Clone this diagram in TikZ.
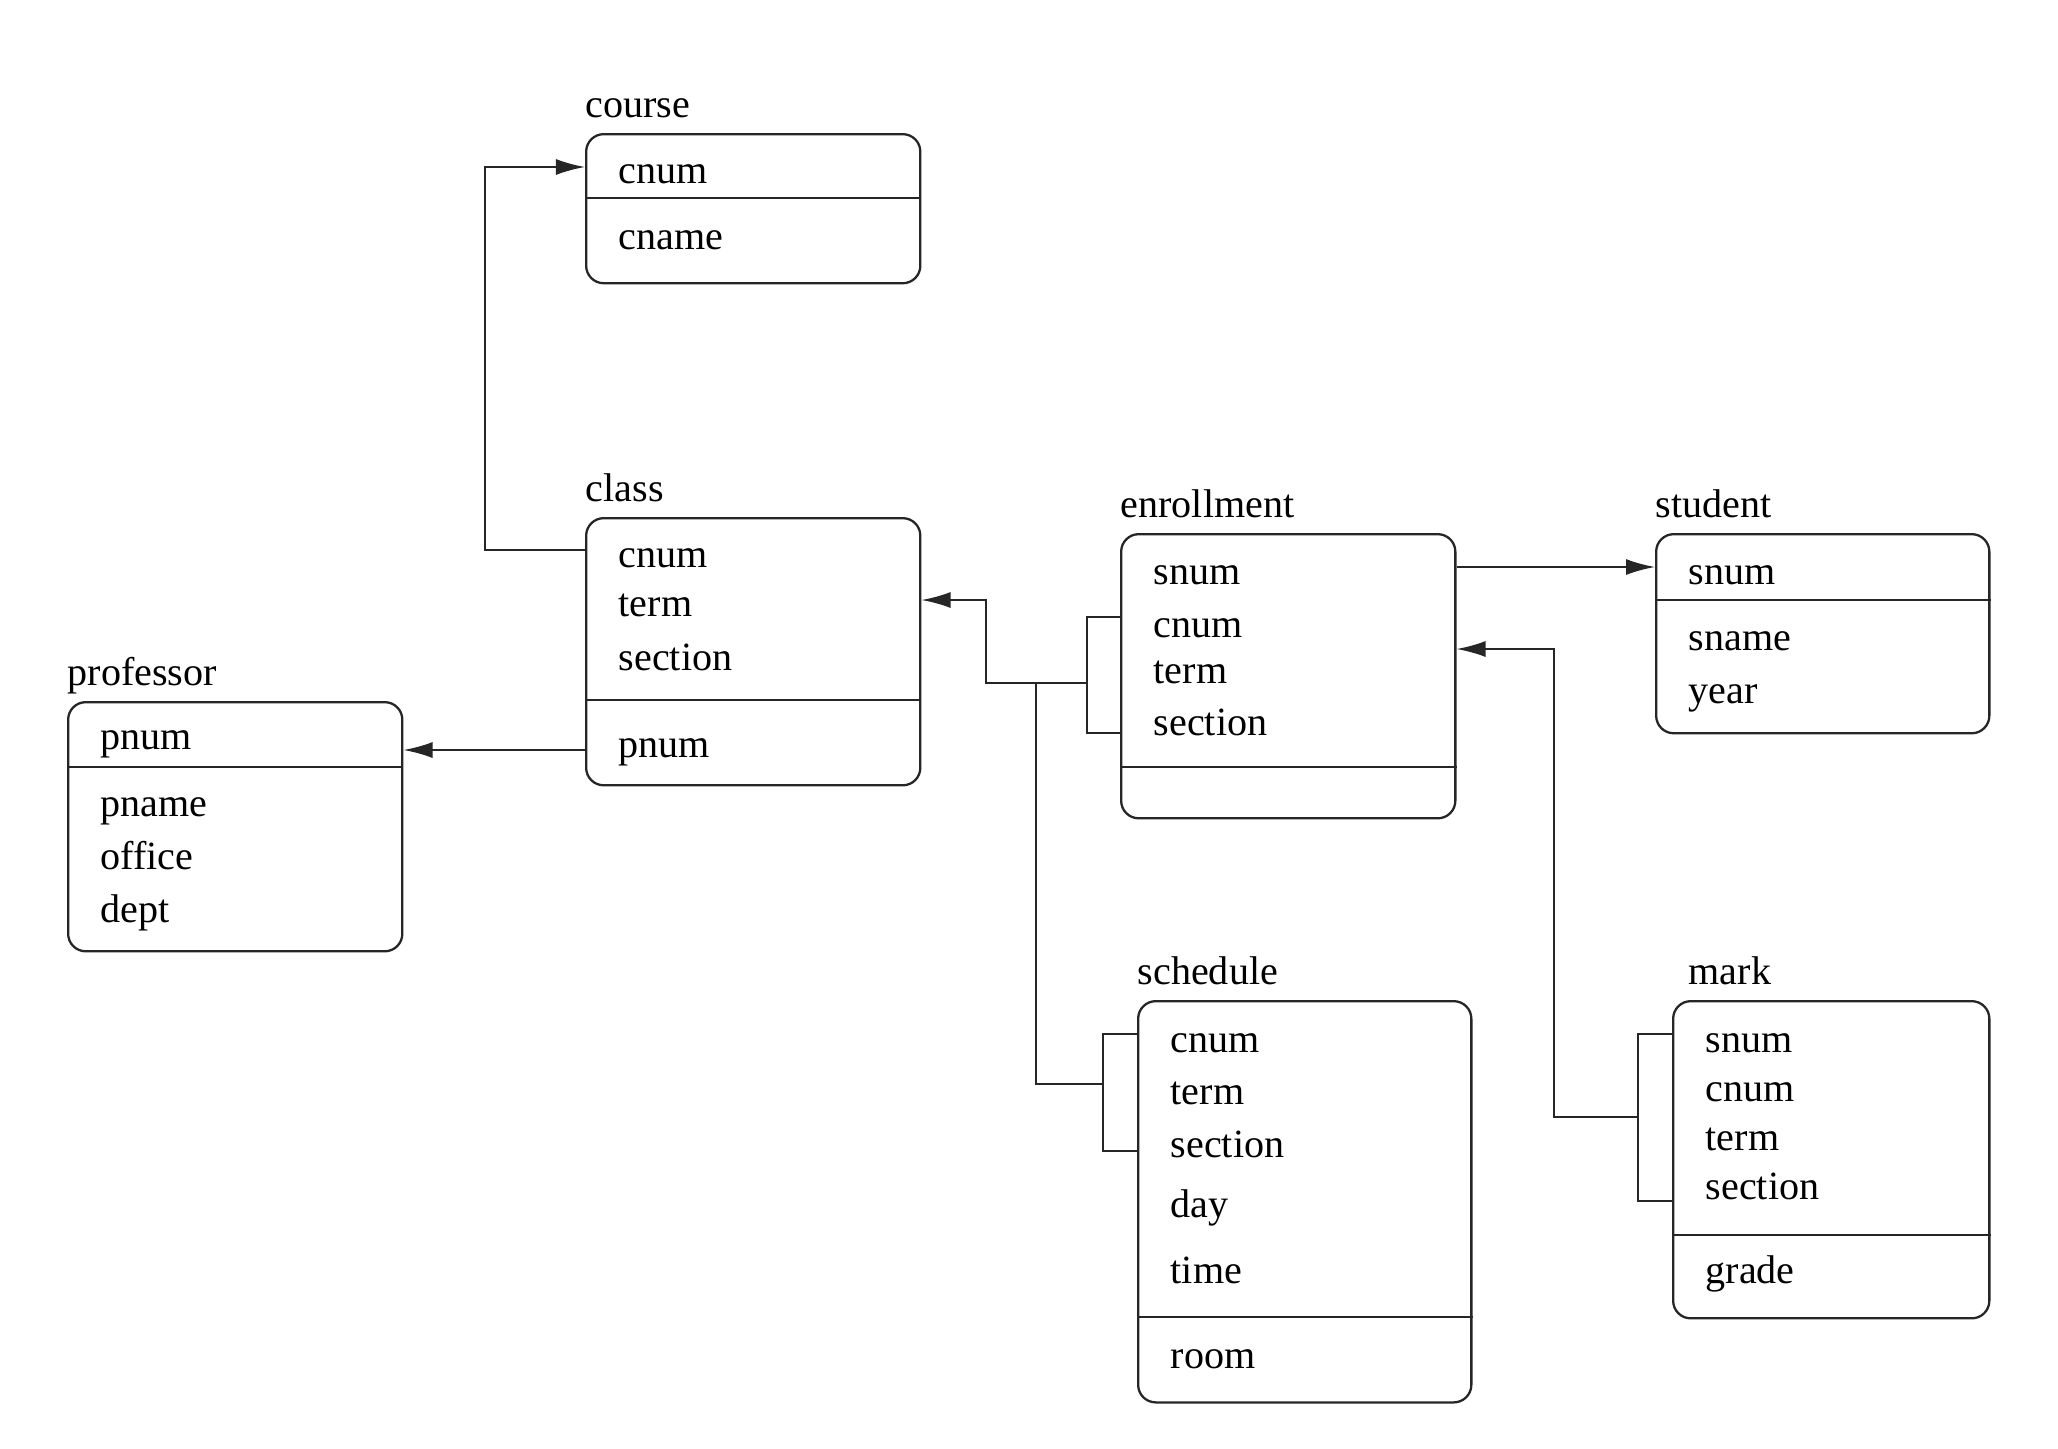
\documentclass[tikz,border=0pt]{standalone}
\usepackage{fontspec}
\setmainfont{Liberation Serif}
\usetikzlibrary{positioning,calc,arrows.meta}
\tikzset{table/.style={rectangle,draw=black!85,line width=0.65pt,rounded corners=5pt,inner sep=0pt,anchor=north west}}
\tikzset{rule/.style={draw=black!85,line width=0.65pt}}
\tikzset{field/.style={anchor=base west,inner sep=0pt,font=\fontsize{11.4}{13.7}\selectfont}}
\tikzset{title/.style={anchor=base west,inner sep=0pt,font=\fontsize{11.4}{13.7}\selectfont}}
\tikzset{link/.style={draw=black!85,line width=0.55pt}}
\tikzset{fk/.style={link,-{Latex[length=2.9mm,width=1.6mm]}}}

\begin{document}
\begin{tikzpicture}[x=0.01cm,y=-0.01cm]
\useasboundingbox (0,0) rectangle (2058,1448);

% course
\node[table,minimum width=3.34cm,minimum height=1.49cm] (course) at (585,133) {};
\node[title] (course-title) at (585,117) {course};
\draw[rule] ($(course.north west)+(0,65)$) -- ($(course.north east)+(0,65)$);
\node[field] (course-cnum) at (618,183) {cnum};
\node[field] (course-cname) at (618,249) {cname};

% class
\node[table,minimum width=3.34cm,minimum height=2.67cm] (class) at (585,517) {};
\node[title] (class-title) at (585,501) {class};
\draw[rule] ($(class.north west)+(0,183)$) -- ($(class.north east)+(0,183)$);
\node[field] (class-cnum) at (618,567) {cnum};
\node[field] (class-term) at (618,616) {term};
\node[field] (class-section) at (618,670) {section};
\node[field] (class-pnum) at (618,757) {pnum};

% professor
\node[table,minimum width=3.34cm,minimum height=2.49cm] (professor) at (67,701) {};
\node[title] (professor-title) at (67,685) {professor};
\draw[rule] ($(professor.north west)+(0,66)$) -- ($(professor.north east)+(0,66)$);
\node[field] (professor-pnum) at (100,749) {pnum};
\node[field] (professor-pname) at (100,816) {pname};
\node[field] (professor-office) at (100,869) {office};
\node[field] (professor-dept) at (100,922) {dept};

% enrollment
\node[table,minimum width=3.34cm,minimum height=2.84cm] (enrollment) at (1120,533) {};
\node[title] (enrollment-title) at (1120,517) {enrollment};
\draw[rule] ($(enrollment.north west)+(0,234)$) -- ($(enrollment.north east)+(0,234)$);
\node[field] (enrollment-snum) at (1153,584) {snum};
\node[field] (enrollment-cnum) at (1153,637) {cnum};
\node[field] (enrollment-term) at (1153,683) {term};
\node[field] (enrollment-section) at (1153,735) {section};

% student
\node[table,minimum width=3.33cm,minimum height=1.99cm] (student) at (1655,533) {};
\node[title] (student-title) at (1655,517) {student};
\draw[rule] ($(student.north west)+(0,67)$) -- ($(student.north east)+(0,67)$);
\node[field] (student-snum) at (1688,584) {snum};
\node[field] (student-sname) at (1688,650) {sname};
\node[field] (student-year) at (1688,703) {year};

% schedule
\node[table,minimum width=3.33cm,minimum height=4.01cm] (schedule) at (1137,1000) {};
\node[title] (schedule-title) at (1137,984) {schedule};
\draw[rule] ($(schedule.north west)+(0,317)$) -- ($(schedule.north east)+(0,317)$);
\node[field] (schedule-cnum) at (1170,1052) {cnum};
\node[field] (schedule-term) at (1170,1104) {term};
\node[field] (schedule-section) at (1170,1157) {section};
\node[field] (schedule-day) at (1170,1217) {day};
\node[field] (schedule-time) at (1170,1283) {time};
\node[field] (schedule-room) at (1170,1368) {room};

% mark
\node[table,minimum width=3.16cm,minimum height=3.17cm] (mark) at (1672,1000) {};
\node[title] (mark-title) at (1688,984) {mark};
\draw[rule] ($(mark.north west)+(0,235)$) -- ($(mark.north east)+(0,235)$);
\node[field] (mark-snum) at (1705,1052) {snum};
\node[field] (mark-cnum) at (1705,1101) {cnum};
\node[field] (mark-term) at (1705,1150) {term};
\node[field] (mark-section) at (1705,1199) {section};
\node[field] (mark-grade) at (1705,1283) {grade};

% brackets round the foreign keys
\coordinate (enrbr) at ($(enrollment.north west)+(-33,150)$);
\coordinate (schbr) at ($(schedule.north west)+(-34,84)$);
\coordinate (markbr) at ($(mark.north west)+(-34,117)$);
\draw[link] ($(enrollment.north west)+(0,84)$) -| (enrbr) |- ($(enrollment.north west)+(0,200)$);
\draw[link] ($(schedule.north west)+(0,34)$) -| (schbr) |- ($(schedule.north west)+(0,151)$);
\draw[link] ($(mark.north west)+(0,34)$) -| (markbr) |- ($(mark.north west)+(0,201)$);

% references
\draw[fk] ($(class.north west)+(0,33)$) -- ++(-100,0) |- ($(course.north west)+(0,34)$);
\draw[fk] ($(class.north west)+(0,233)$) -- ($(professor.north east)+(0,49)$);
\draw[fk] (enrbr) -- ++(-101,0) |- ($(class.north east)+(0,83)$);
\draw[link] (schbr) -- ++(-67,0) |- (enrbr);
\draw[fk] ($(enrollment.north east)+(0,34)$) -- ($(student.north west)+(0,34)$);
\draw[fk] (markbr) -- ++(-84,0) |- ($(enrollment.north east)+(0,116)$);
\end{tikzpicture}
\end{document}
